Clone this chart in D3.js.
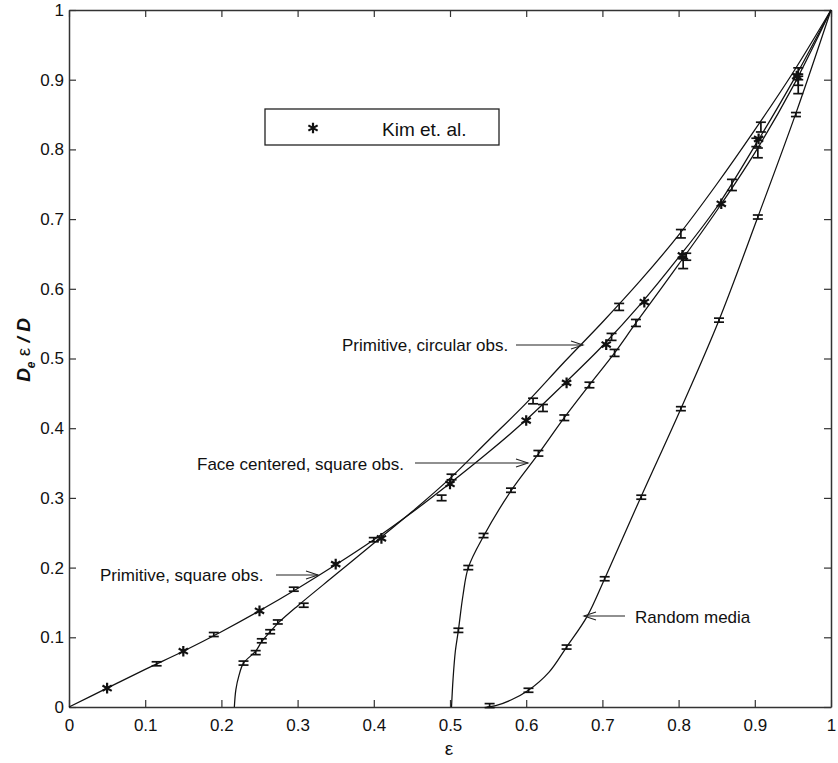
<!DOCTYPE html>
<html>
<head>
<meta charset="utf-8">
<script src="https://cdn.jsdelivr.net/npm/d3@7"></script>
<style>
  html, body { margin: 0; padding: 0; background: #fff; }
  svg { display: block; }
  text { font-family: "Liberation Sans", Arial, Helvetica, sans-serif; fill: #111; }
</style>
</head>
<body>
<svg id="chart" width="838" height="763"></svg>
<script>
// ---- data ----
const xTicks = [0, 0.1, 0.2, 0.3, 0.4, 0.5, 0.6, 0.7, 0.8, 0.9, 1];
const yTicks = [0, 0.1, 0.2, 0.3, 0.4, 0.5, 0.6, 0.7, 0.8, 0.9, 1];

// fitted curves [epsilon, De*eps/D]
const primitiveSquare = [[0,0],[0.05,0.027],[0.1,0.054],[0.15,0.08],[0.2,0.108],[0.25,0.138],[0.3,0.17],[0.35,0.204],[0.4,0.24],[0.45,0.279],[0.5,0.321],[0.55,0.365],[0.6,0.412],[0.65,0.464],[0.7,0.518],[0.75,0.578],[0.8,0.645],[0.85,0.717],[0.9,0.805],[0.95,0.898],[1,1]];
const primitiveCircular = [[0.217,0],[0.219,0.025],[0.223,0.045],[0.229,0.063],[0.245,0.08],[0.253,0.094],[0.264,0.108],[0.275,0.121],[0.3,0.145],[0.35,0.19],[0.4,0.235],[0.45,0.28],[0.5,0.328],[0.55,0.382],[0.6,0.436],[0.65,0.495],[0.7,0.552],[0.75,0.612],[0.8,0.677],[0.85,0.75],[0.9,0.828],[0.95,0.91],[1,1]];
const faceCentered = [[0.502,0],[0.504,0.04],[0.507,0.08],[0.511,0.11],[0.517,0.16],[0.524,0.2],[0.544,0.245],[0.58,0.31],[0.616,0.363],[0.65,0.415],[0.683,0.462],[0.716,0.508],[0.744,0.551],[0.8,0.635],[0.85,0.712],[0.9,0.795],[0.95,0.89],[1,1]];
const randomMedia = [[0.548,0],[0.56,0.002],[0.58,0.01],[0.603,0.024],[0.63,0.05],[0.653,0.086],[0.68,0.13],[0.703,0.184],[0.75,0.3],[0.803,0.428],[0.853,0.555],[0.904,0.703],[0.954,0.852],[1,1]];

// simulation results with error bars [epsilon, value, error]
const squareSim = [[0.115,0.062,0.002],[0.19,0.104,0.002],[0.295,0.169,0.002],[0.4,0.24,0.003],[0.622,0.429,0.005],[0.712,0.531,0.005],[0.81,0.646,0.005],[0.87,0.749,0.008],[0.902,0.81,0.006],[0.957,0.9,0.008]];
const circularSim = [[0.229,0.063,0.002],[0.245,0.078,0.002],[0.253,0.095,0.002],[0.264,0.108,0.002],[0.274,0.122,0.002],[0.308,0.146,0.002],[0.489,0.3,0.004],[0.502,0.33,0.004],[0.609,0.439,0.004],[0.722,0.574,0.005],[0.803,0.679,0.006],[0.908,0.832,0.007],[0.957,0.911,0.006]];
const faceSim = [[0.511,0.11,0.003],[0.524,0.2,0.003],[0.544,0.246,0.003],[0.58,0.311,0.003],[0.616,0.364,0.004],[0.65,0.415,0.004],[0.683,0.462,0.004],[0.716,0.508,0.005],[0.744,0.551,0.005],[0.806,0.636,0.007],[0.904,0.795,0.007],[0.957,0.89,0.01]];
const randomSim = [[0.552,0.002,0.002],[0.603,0.024,0.002],[0.653,0.086,0.002],[0.703,0.184,0.002],[0.751,0.301,0.002],[0.803,0.428,0.002],[0.853,0.555,0.002],[0.904,0.703,0.002],[0.954,0.85,0.002]];

// Kim et al. (asterisks)
const kimData = [[0.05,0.027],[0.15,0.08],[0.25,0.138],[0.35,0.205],[0.41,0.242],[0.5,0.32],[0.6,0.411],[0.653,0.465],[0.705,0.52],[0.755,0.581],[0.805,0.648],[0.856,0.722],[0.905,0.815],[0.955,0.905]];

// annotations: label, text anchor point, arrow start, arrow tip
const annotations = [
  { text: "Primitive, circular obs.", tx: 342, ty: 351, ax0: 516, ay: 345, ax1: 583 },
  { text: "Face centered, square obs.", tx: 197, ty: 470, ax0: 415, ay: 463, ax1: 528 },
  { text: "Primitive, square obs.", tx: 100, ty: 581, ax0: 276, ay: 575, ax1: 318 },
  { text: "Random media", tx: 635, ty: 623, ax0: 625, ay: 616, ax1: 584 }
];
const legendLabel = "Kim et. al.";

// ---- drawing ----
const svg = d3.select("#chart");
const L = 69, R = 831, T = 10, B = 707;
const x = d3.scaleLinear().domain([0, 1]).range([L, R]);
const y = d3.scaleLinear().domain([0, 1]).range([B, T]);
const fmt = d => d3.format("~g")(d);
const axisColor = "#333";

// axes
const gB = svg.append("g").attr("transform", `translate(0,${B})`)
  .call(d3.axisBottom(x).tickValues(xTicks).tickFormat(fmt).tickSizeInner(-7).tickSizeOuter(0).tickPadding(12));
const gT = svg.append("g").attr("transform", `translate(0,${T})`)
  .call(d3.axisTop(x).tickValues(xTicks).tickFormat("").tickSizeInner(-7).tickSizeOuter(0));
const gL = svg.append("g").attr("transform", `translate(${L},0)`)
  .call(d3.axisLeft(y).tickValues(yTicks).tickFormat(fmt).tickSizeInner(-7).tickSizeOuter(0).tickPadding(5));
const gR = svg.append("g").attr("transform", `translate(${R},0)`)
  .call(d3.axisRight(y).tickValues(yTicks).tickFormat("").tickSizeInner(-7).tickSizeOuter(0));
[gB, gT, gL, gR].forEach(g => {
  g.selectAll(".domain").attr("stroke", axisColor).attr("stroke-width", 1.5);
  g.selectAll(".tick line").attr("stroke", axisColor).attr("stroke-width", 1.2);
  g.selectAll(".tick text").attr("font-size", 17).attr("fill", "#111")
    .attr("font-family", "'Liberation Sans', Arial, sans-serif");
});

// curves
const line = d3.line().x(d => x(d[0])).y(d => y(d[1])).curve(d3.curveCatmullRom.alpha(0.5));
[primitiveSquare, primitiveCircular, faceCentered, randomMedia].forEach(c => {
  svg.append("path").datum(c).attr("d", line)
    .attr("fill", "none").attr("stroke", "#111").attr("stroke-width", 1.25);
});

// error bars
const capW = 5;
[squareSim, circularSim, faceSim, randomSim].forEach(s => {
  const g = svg.append("g").attr("stroke", "#111").attr("stroke-width", 1.7).attr("fill", "none");
  s.forEach(d => {
    const cx = x(d[0]);
    let y0 = y(d[1] - d[2]), y1 = y(d[1] + d[2]);
    if (y0 - y1 < 4) { const m = (y0 + y1) / 2; y0 = m + 2; y1 = m - 2; }
    g.append("line").attr("x1", cx).attr("x2", cx).attr("y1", y0).attr("y2", y1);
    g.append("line").attr("x1", cx - capW).attr("x2", cx + capW).attr("y1", y0).attr("y2", y0);
    g.append("line").attr("x1", cx - capW).attr("x2", cx + capW).attr("y1", y1).attr("y2", y1);
  });
});

// Kim et al asterisks
const star = d3.symbol().type(d3.symbolAsterisk).size(80);
svg.append("g").selectAll("path").data(kimData).join("path")
  .attr("d", star).attr("transform", d => `translate(${x(d[0])},${y(d[1])})`)
  .attr("fill", "none").attr("stroke", "#111").attr("stroke-width", 2.2);

// annotations
annotations.forEach(a => {
  svg.append("text").attr("x", a.tx).attr("y", a.ty).attr("font-size", 17).text(a.text);
  const g = svg.append("g").attr("stroke", "#222").attr("stroke-width", 1.1).attr("fill", "none");
  g.append("line").attr("x1", a.ax0).attr("x2", a.ax1).attr("y1", a.ay).attr("y2", a.ay);
  const dir = a.ax1 > a.ax0 ? -1 : 1;
  g.append("path").attr("d", `M${a.ax1 + dir * 12},${a.ay - 4} L${a.ax1},${a.ay} L${a.ax1 + dir * 12},${a.ay + 4}`);
});

// legend
svg.append("rect").attr("x", 265).attr("y", 109).attr("width", 234).attr("height", 36)
  .attr("fill", "#fff").attr("stroke", "#222").attr("stroke-width", 1.3);
svg.append("path").attr("d", star).attr("transform", "translate(313,128)")
  .attr("fill", "none").attr("stroke", "#111").attr("stroke-width", 2.2);
svg.append("text").attr("x", 382).attr("y", 136).attr("font-size", 19).text(legendLabel);

// axis labels
svg.append("text").attr("x", 449).attr("y", 755).attr("text-anchor", "middle")
  .attr("font-family", "'Liberation Serif', 'Times New Roman', serif").attr("font-size", 19).text("ε");
const yl = svg.append("text").attr("transform", "translate(30,350) rotate(-90)")
  .attr("text-anchor", "middle").attr("font-family", "'Liberation Serif', 'Times New Roman', serif")
  .attr("font-size", 19).attr("font-weight", "bold");
yl.append("tspan").attr("font-style", "italic").text("D");
yl.append("tspan").attr("font-size", 12).attr("font-style", "italic").attr("dy", 5).text("e");
yl.append("tspan").attr("dy", -5).attr("font-weight", "normal").text(" ε ");
yl.append("tspan").attr("font-style", "italic").text("/ D");
</script>
</body>
</html>
